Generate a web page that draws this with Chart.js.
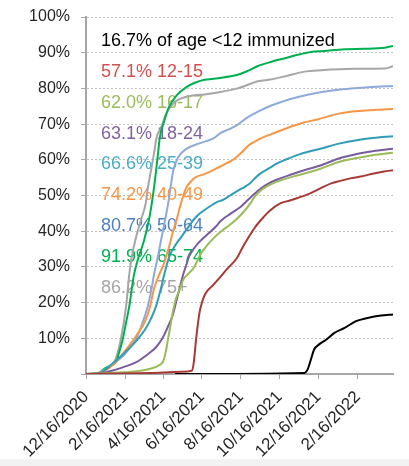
<!DOCTYPE html>
<html lang="en">
<head>
  <meta charset="UTF-8">
  <title>Share immunized by age group</title>
  <script src="https://cdn.jsdelivr.net/npm/chart.js"></script>
  <style>
    html, body { margin: 0; padding: 0; background: #f2f2f2; }
    #wrap { width: 409px; height: 459px; background: #fff; }
  </style>
</head>
<body>
  <div id="wrap"><canvas id="immChart" width="409" height="459"></canvas></div>

  <script>
    // x values are days since the first date, y values are % immunized
    const startDate = '12/16/2020';
    const lastDay = 482;
    const xTickLabels = ['12/16/2020', '2/16/2021', '4/16/2021', '6/16/2021', '8/16/2021', '10/16/2021', '12/16/2021', '2/16/2022'];
    const yTickValues = [0, 10, 20, 30, 40, 50, 60, 70, 80, 90, 100];

    const ageGroups = ['<12', '12-15', '16-17', '18-24', '25-39', '40-49', '50-64', '65-74', '75+'];
    const latestPct = [16.7, 57.1, 62.0, 63.1, 66.6, 74.2, 80.7, 91.9, 86.2];

    const ageUnder12 = [[140,0],[343,0.3],[348,1.3],[353,4],[358,6.8],[366,8.3],[377,9.6],[390,11.5],[406,12.9],[424,14.8],[442,15.7],[463,16.4],[482,16.7]];
    const age12to15 = [[0,0],[30,0.1],[100,0.3],[150,0.6],[166,0.9],[169,3],[173,10],[178,17],[182,20],[186,22],[192,23.6],[199,24.8],[210,27],[222,29.5],[237,32.5],[246,35.5],[256,38.5],[265,41],[274,43],[289,45.8],[305,47.8],[320,48.6],[332,49.3],[352,50.6],[368,52],[385,53.4],[399,54.1],[415,54.8],[431,55.3],[450,56.1],[468,56.7],[482,57.1]];
    const age16to17 = [[0,0],[20,0.1],[52,0.4],[80,0.8],[105,1.7],[115,2.5],[121,3.5],[125,6],[129,10],[133,14],[137,18],[141,21],[146,23.2],[153,26.5],[162,28.3],[170,30],[179,33.3],[190,36],[200,38],[211,39.8],[226,41.8],[237,43.5],[247,45.3],[258,47.8],[263,49.2],[269,50.5],[278,51.9],[291,53.2],[305,54.2],[331,55.6],[350,56.5],[368,57.5],[399,59.5],[425,60.5],[450,61.3],[482,62.0]];
    const age18to24 = [[0,0],[20,0.1],[42,1],[60,2],[79,3.3],[99,5.8],[110,7.5],[120,10],[128,13],[136,16.4],[142,20.5],[147,24],[152,27.5],[157,30.3],[162,33],[170,35.3],[178,37],[190,39],[204,41.3],[211,42.8],[226,44.8],[242,46.7],[258,49.4],[274,51.9],[289,53.6],[305,54.8],[321,55.8],[345,57.2],[368,58.4],[399,60.5],[425,61.6],[450,62.4],[482,63.1]];
    const age25to39 = [[0,0],[20,0.2],[42,3],[55,5],[68,7.2],[80,9.5],[94,12.8],[102,15.5],[110,19],[117,23.5],[123,28],[131,33],[140,36],[150,38.5],[160,41],[168,43],[179,45],[189,46.3],[204,48],[215,48.8],[226,50],[240,51.5],[250,52.5],[258,53.5],[266,55],[274,56.2],[289,57.8],[300,59],[313,60],[336,61.6],[368,63.1],[399,64.6],[425,65.5],[450,66.1],[482,66.6]];
    const age40to49 = [[0,0],[20,0.3],[42,2.5],[55,5],[68,8],[80,11],[92,14.5],[100,18.5],[107,24],[114,27.5],[121,30.3],[126,33],[131,36],[136,39.5],[142,43],[149,47.8],[157,52],[165,54],[173,55.2],[186,56],[204,57.5],[220,59],[231,60],[245,62.2],[255,64],[264,65],[278,66.3],[291,67.2],[310,68.5],[343,70.5],[363,71.3],[399,73],[430,73.7],[455,74],[482,74.2]];
    const age50to64 = [[0,0],[20,0.3],[36,2],[48,3.5],[58,5],[68,7.2],[79,10],[88,14],[97,19],[102,23],[107,28],[113,33],[119,38.6],[124,43],[129,47.8],[133,52.5],[137,57],[145,60.8],[157,63],[178,64.6],[200,66],[211,67.5],[224,68.5],[237,69.7],[253,71.8],[270,73.5],[291,75.2],[315,76.7],[343,78],[370,79],[399,79.7],[448,80.4],[482,80.7]];
    const age65to74 = [[0,0],[20,0.3],[31,1.7],[40,2.5],[47,3.3],[52,6],[58,10],[63,14.5],[68,19],[72,24],[75,27.5],[83,33],[90,36.7],[94,39.4],[99,43.3],[103,47.5],[107,52.5],[110,57],[113,61.7],[116,66.4],[123,71],[130,74.7],[142,78],[157,80.3],[170,81.5],[186,82.4],[204,82.8],[238,83.8],[255,85],[269,86.2],[290,87.4],[311,88.4],[332,89.4],[353,90.2],[374,90.5],[406,91],[437,91.1],[469,91.4],[482,91.9]];
    const age75plus = [[0,0],[20,0.3],[35,1.5],[47,4.4],[55,10],[63,19],[68,28],[72,33],[79,38.6],[86,43],[94,48],[97,52],[102,57],[107,62],[111,66.4],[118,69],[126,73],[142,76.5],[168,78],[186,78.3],[204,78.8],[238,80],[270,82],[290,82.5],[311,83.3],[343,84.7],[369,85.1],[421,85.5],[469,85.6],[482,86.2]];

    const seriesData = [ageUnder12, age12to15, age16to17, age18to24, age25to39, age40to49, age50to64, age65to74, age75plus];
    const lineColors = ['#000000', '#a83a36', '#9bbb59', '#7a5c9e', '#2f9db7', '#f79646', '#8eaadb', '#00b050', '#a6a6a6'];
    const textColors = ['#000000', '#d0524f', '#9bbb59', '#8064a2', '#4bacc6', '#f79646', '#4f81bd', '#00b050', '#a6a6a6'];

    const FONT = '"Liberation Sans", Arial, sans-serif';
    const dayMs = 86400000;
    const tickDays = xTickLabels.map(s => Math.round((Date.parse(s) - Date.parse(startDate)) / dayMs));

    const datasets = seriesData.map((pts, i) => ({
      label: ageGroups[i],
      data: pts.map(p => ({ x: p[0], y: p[1] })),
      borderColor: lineColors[i],
      borderWidth: 2,
      pointRadius: 0,
      fill: false,
      cubicInterpolationMode: 'monotone'
    }));

    // the coloured labels in the upper left of the plot
    const groupLabels = {
      id: 'groupLabels',
      beforeDatasetsDraw(chart) {
        const { ctx, chartArea } = chart;
        ctx.save();
        ctx.font = '18px ' + FONT;
        ctx.textAlign = 'left';
        ctx.textBaseline = 'alphabetic';
        ageGroups.forEach((g, i) => {
          const text = i === 0
            ? `${latestPct[i].toFixed(1)}% of age ${g} immunized`
            : `${latestPct[i].toFixed(1)}% ${g}`;
          ctx.fillStyle = textColors[i];
          ctx.fillText(text, chartArea.left + 15, chartArea.top + 29 + i * 30.85);
        });
        ctx.restore();
      }
    };

    new Chart(document.getElementById('immChart'), {
      type: 'line',
      data: { datasets },
      options: {
        responsive: false,
        animation: false,
        layout: { padding: { top: 17, right: 16, left: 0, bottom: 0 } },
        plugins: { legend: { display: false }, tooltip: { enabled: false } },
        scales: {
          x: {
            type: 'linear',
            min: 0,
            max: lastDay,
            afterBuildTicks: scale => { scale.ticks = tickDays.map(v => ({ value: v })); },
            afterFit: scale => {
              scale.height = 85;
              scale.paddingLeft = 0;
              scale.paddingRight = 0;
            },
            ticks: {
              autoSkip: false,
              maxRotation: 45,
              minRotation: 45,
              padding: 8,
              color: '#262626',
              font: { family: FONT, size: 17 },
              callback: v => xTickLabels[tickDays.indexOf(v)]
            },
            grid: { drawOnChartArea: false, drawTicks: true, tickLength: 5, color: '#a6a6a6' },
            border: { color: '#a6a6a6', width: 2 }
          },
          y: {
            min: 0,
            max: 100,
            afterBuildTicks: scale => { scale.ticks = yTickValues.map(v => ({ value: v })); },
            afterFit: scale => {
              scale.width = 86;
              scale.paddingTop = 0;
              scale.paddingBottom = 0;
            },
            ticks: {
              padding: 11,
              color: '#262626',
              font: { family: FONT, size: 16 },
              callback: v => v === 0 ? '' : v + '%'
            },
            grid: { color: '#c4c4c4', lineWidth: 1, tickLength: 5, tickColor: '#a6a6a6' },
            border: { color: '#a6a6a6', width: 2, dash: [2, 2] }
          }
        }
      },
      plugins: [groupLabels]
    });
  </script>
</body>
</html>
